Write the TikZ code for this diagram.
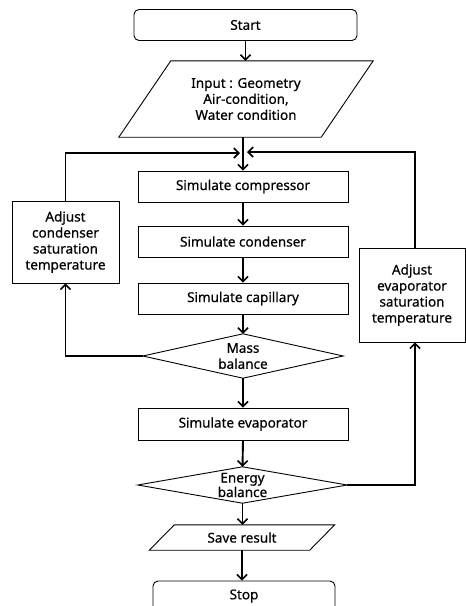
\documentclass[tikz,border=0pt]{standalone}
\usepackage{fontspec}
\setmainfont{Noto Sans}
\newfontfamily\semib[FakeBold=0.5]{Noto Sans}
\usetikzlibrary{arrows.meta}
\newcommand\dfont{\semib\fontsize{13.5}{16}\selectfont}
\begin{document}
\begin{tikzpicture}[x=1pt,y=-1pt,
  box/.style={draw,line width=0.9pt,inner sep=0pt,align=center,font=\dfont},
  txt/.style={inner sep=0pt,align=center,font=\dfont},
  shp/.style={draw,line width=0.9pt},
  conn/.style={line width=1.9pt,-{Straight Barb[length=5pt,width=10pt,line width=1.6pt]}}]
\clip (0,0) rectangle (466,606);
\useasboundingbox (0,0) rectangle (466,606);
% nodes
\node[box,rounded corners=5pt,minimum width=223pt,minimum height=31pt] (start) at (245.5,25) {Start};
\node[txt,minimum width=202pt,minimum height=76pt] (input) at (246,99) {Input : Geometry\\Air-condition,\\Water condition};
\draw[shp] ([xshift=26pt]input.north west) -- ([xshift=26pt]input.north east) -- ([xshift=-26pt]input.south east) -- ([xshift=-26pt]input.south west) -- cycle;
\node[box,minimum width=210pt,minimum height=31pt] (comp) at (243,186.5) {Simulate compressor};
\node[box,minimum width=210pt,minimum height=31pt] (cond) at (243,241.5) {Simulate condenser};
\node[box,minimum width=210pt,minimum height=31pt] (cap) at (243,298.5) {Simulate capillary};
\node[txt,minimum width=200pt,minimum height=44pt] (mass) at (243,356) {Mass\\balance};
\draw[shp] (mass.north) -- (mass.east) -- (mass.south) -- (mass.west) -- cycle;
\node[box,minimum width=210pt,minimum height=32pt] (evap) at (243,424) {Simulate evaporator};
\node[txt,minimum width=209pt,minimum height=36pt,font=\semib\fontsize{13.5}{14.5}\selectfont] (energy) at (242.5,485) {Energy\\balance};
\draw[shp] (energy.north) -- (energy.east) -- (energy.south) -- (energy.west) -- cycle;
\node[txt,minimum width=160pt,minimum height=25pt] (save) at (242,537.5) {Save result};
\draw[shp] ([xshift=12.5pt]save.north west) -- ([xshift=12.5pt]save.north east) -- ([xshift=-12.5pt]save.south east) -- ([xshift=-12.5pt]save.south west) -- cycle;
\node[box,rounded corners=5pt,minimum width=182pt,minimum height=34pt] (stop) at (244,598) {};
\node[txt] (stoptxt) at (244,596) {Stop};
\node[box,minimum width=107pt,minimum height=82pt] (adjc) at (65.5,242) {Adjust\\condenser\\saturation\\temperature};
\node[box,minimum width=106pt,minimum height=94pt] (adje) at (412,295) {Adjust\\evaporator\\saturation\\temperature};
\coordinate (jL) at (240,153);
\coordinate (jR) at (247,152);
\coordinate (rx) at (415,0);
% connectors
\draw[conn] (start.south) -- (start.south |- input.north);
\draw[conn] (comp |- input.south) -- (comp.north);
\draw[conn] (comp.south) -- (cond.north);
\draw[conn] (cond.south) -- (cap.north);
\draw[conn] (cap.south) -- (mass.north);
\draw[conn] (mass.south) -- (evap.north);
\draw[conn] (evap.south) -- (energy.north);
\draw[conn] (energy.south) -- (energy.south |- save.north);
\draw[conn] (save.south) -- (save.south |- stop.north);
\draw[conn] (mass.west) -| (adjc.south);
\draw[conn] (adjc.north) |- (jL);
\draw[conn] (energy.east) -| (adje.south -| rx);
\draw[conn] (adje.north -| rx) |- (jR);
\end{tikzpicture}
\end{document}
